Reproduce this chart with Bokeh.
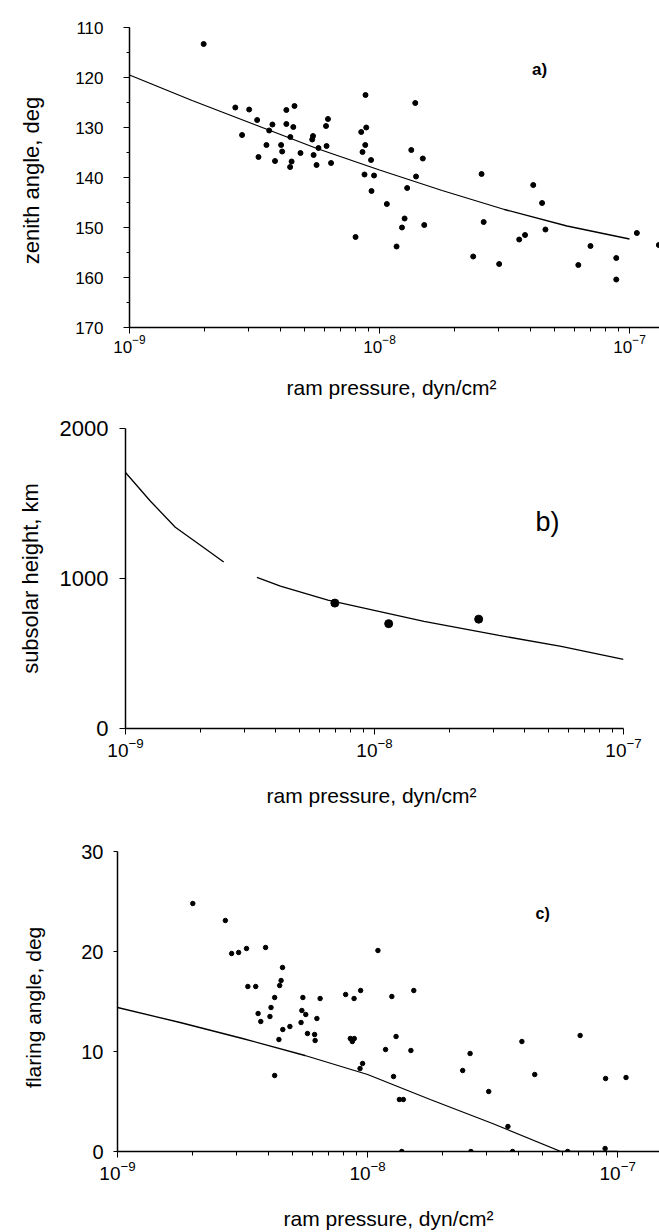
import math
from bokeh.plotting import figure
from bokeh.models import Range1d, FixedTicker, Label, SingleIntervalTicker
from bokeh.embed import file_html
from bokeh.resources import INLINE

FONT = "Liberation Sans"

# ---------------- data: panel a (zenith angle) ----------------
a_pressure = [1.98e-9, 2.65e-9, 3.01e-9, 3.24e-9, 2.82e-9, 3.28e-9, 3.53e-9, 3.62e-9,
              3.73e-9, 3.82e-9, 4.04e-9, 4.08e-9, 4.24e-9, 4.57e-9, 4.24e-9, 4.52e-9,
              4.40e-9, 4.45e-9, 4.39e-9, 4.83e-9, 5.38e-9, 5.42e-9, 5.45e-9, 5.60e-9,
              5.70e-9, 6.11e-9, 6.22e-9, 6.14e-9, 6.40e-9, 8.02e-9, 8.45e-9, 8.79e-9,
              8.85e-9, 8.77e-9, 8.55e-9, 9.25e-9, 8.71e-9, 9.29e-9, 9.51e-9, 1.07e-8,
              1.17e-8, 1.23e-8, 1.26e-8, 1.29e-8, 1.34e-8, 1.39e-8, 1.40e-8, 1.49e-8,
              1.51e-8, 2.37e-8, 2.56e-8, 2.61e-8, 3.01e-8, 3.62e-8, 3.82e-8, 4.12e-8,
              4.47e-8, 4.61e-8, 6.24e-8, 6.98e-8, 8.85e-8, 8.85e-8, 1.07e-7, 1.31e-7]
a_zenith = [113.3, 126.0, 126.4, 128.5, 131.5, 135.9, 133.5, 130.6,
            129.4, 136.7, 133.5, 134.8, 126.5, 125.7, 129.3, 129.9,
            131.9, 136.8, 137.9, 135.1, 132.4, 131.7, 135.5, 137.5,
            134.1, 129.7, 128.3, 133.7, 137.1, 151.9, 130.9, 123.5,
            130.0, 133.5, 134.9, 136.5, 139.4, 142.7, 139.6, 145.3,
            153.8, 150.0, 148.2, 142.1, 134.5, 125.1, 139.8, 136.2,
            149.5, 155.8, 139.3, 148.9, 157.3, 152.4, 151.5, 141.5,
            145.1, 150.4, 157.5, 153.7, 156.1, 160.4, 151.1, 153.5]
a_model_pressure = [1e-9, 1.78e-9, 3.16e-9, 5.62e-9, 1e-8, 1.78e-8, 3.16e-8, 5.62e-8, 1e-7]
a_model_zenith = [119.5, 124.6, 129.4, 134.2, 138.5, 142.6, 146.4, 149.7, 152.3]

# ---------------- data: panel b (subsolar height) ----------------
b_pressure = [6.93e-9, 1.14e-8, 2.62e-8]
b_height = [836, 699, 729]
b_model1_pressure = [1e-9, 1.26e-9, 1.585e-9, 2.0e-9, 2.48e-9]
b_model1_height = [1707, 1515, 1342, 1222, 1110]
b_model2_pressure = [3.37e-9, 4.19e-9, 6.5e-9, 1.58e-8, 3.16e-8, 5.62e-8, 1e-7]
b_model2_height = [1007, 949, 856, 714, 621, 547, 461]
b_yticks = [0, 1000, 2000]

# ---------------- data: panel c (flaring angle) ----------------
c_pressure = [2.00e-9, 2.70e-9, 2.86e-9, 3.05e-9, 3.28e-9, 3.91e-9, 4.57e-9, 4.51e-9,
              4.45e-9, 3.32e-9, 3.57e-9, 4.25e-9, 4.11e-9, 3.65e-9, 3.74e-9, 4.07e-9,
              4.58e-9, 4.89e-9, 4.42e-9, 4.25e-9, 5.51e-9, 5.46e-9, 5.66e-9, 5.42e-9,
              5.75e-9, 6.14e-9, 6.17e-9, 6.27e-9, 6.46e-9, 8.17e-9, 8.83e-9, 9.38e-9,
              8.53e-9, 8.85e-9, 8.69e-9, 9.55e-9, 9.33e-9, 1.10e-8, 1.25e-8, 1.53e-8,
              1.30e-8, 1.18e-8, 1.49e-8, 1.27e-8, 1.34e-8, 1.39e-8, 2.40e-8, 2.57e-8,
              3.05e-8, 4.14e-8, 4.66e-8, 3.64e-8, 7.08e-8, 8.95e-8, 1.08e-7,
              1.37e-8, 2.59e-8, 3.80e-8, 6.31e-8, 8.91e-8, 1.32e-7]
c_flaring = [24.8, 23.1, 19.8, 19.9, 20.3, 20.4, 18.4, 17.1,
             16.6, 16.5, 16.5, 15.4, 14.4, 13.8, 13.0, 13.5,
             12.2, 12.5, 11.2, 7.6, 15.4, 14.1, 13.7, 12.9,
             11.8, 11.7, 11.1, 13.3, 15.3, 15.7, 15.3, 16.1,
             11.3, 11.3, 11.0, 8.8, 8.3, 20.1, 15.5, 16.1,
             11.5, 10.2, 10.1, 7.5, 5.2, 5.2, 8.1, 9.8,
             6.0, 11.0, 7.7, 2.5, 11.6, 7.3, 7.4,
             0.0, 0.0, 0.0, 0.0, 0.3, -0.3]
c_model_pressure = [1e-9, 1.78e-9, 3.16e-9, 5.62e-9, 1e-8, 1.78e-8, 3.16e-8, 5.93e-8, 1e-7]
c_model_flaring = [14.4, 12.9, 11.3, 9.6, 7.7, 5.2, 2.8, 0.0, 0.0]
c_yticks = [0, 10, 20, 30]

x_major = [1e-9, 1e-8, 1e-7]
x_minor = [m * 1e-9 for m in range(2, 10)] + [m * 1e-8 for m in range(2, 10)]


def make_fig(w, h, left, right, top, bottom, xr, yr):
    p = figure(width=w, height=h, x_axis_type="log", x_range=xr, y_range=yr,
               output_backend="svg", toolbar_location=None,
               min_border_left=left, min_border_right=right,
               min_border_top=top, min_border_bottom=bottom)
    p.outline_line_color = None
    p.grid.visible = False
    p.background_fill_color = "white"
    p.border_fill_color = "white"
    for ax in (p.xaxis[0], p.yaxis[0]):
        ax.axis_line_color = "black"
        ax.axis_line_width = 1.5
        ax.major_tick_line_color = "black"
        ax.minor_tick_line_color = "black"
        ax.major_tick_in = 0
        ax.minor_tick_in = 0
        ax.major_label_text_font = FONT
        ax.major_label_text_color = "black"
        ax.axis_label_text_font = FONT
        ax.axis_label_text_font_style = "normal"
        ax.axis_label_text_color = "black"
    p.xaxis[0].ticker = FixedTicker(ticks=x_major, minor_ticks=x_minor)
    p.xaxis[0].major_tick_out = 6
    p.xaxis[0].minor_tick_out = 4
    return p


def add_text(p, x, y, text, size, bold=False):
    p.add_layout(Label(x=x, y=y, text=text, text_font=FONT,
                       text_font_size=f"{size}px",
                       text_font_style="bold" if bold else "normal",
                       text_align="center", text_baseline="middle",
                       text_color="black"))


# ---------------- panel a ----------------
pa = make_fig(659, 410, 129, 0, 27, 83, Range1d(1e-9, 1.318e-7), Range1d(170, 110))
pa.yaxis[0].ticker = SingleIntervalTicker(interval=10, num_minor_ticks=2)
pa.yaxis[0].major_tick_out = 6
pa.yaxis[0].minor_tick_out = 3
pa.yaxis[0].major_label_standoff = 20
pa.yaxis[0].major_label_text_font_size = "17px"
pa.xaxis[0].major_label_text_font_size = "17px"
pa.xaxis[0].major_label_standoff = 1
pa.xaxis[0].axis_label = "ram pressure,  dyn/cm²"
pa.xaxis[0].axis_label_text_font_size = "21px"
pa.xaxis[0].axis_label_standoff = 20
pa.yaxis[0].axis_label = "zenith angle,  deg"
pa.yaxis[0].axis_label_text_font_size = "22px"
pa.yaxis[0].axis_label_standoff = 28
pa.line(a_model_pressure, a_model_zenith, line_color="black", line_width=1.3)
pa.scatter(a_pressure, a_zenith, size=5, color="black")
add_text(pa, 4.37e-8, 118.4, "a)", 17, bold=True)

# ---------------- panel b ----------------
pb = make_fig(659, 405, 125, 36, 18, 87, Range1d(1e-9, 1e-7), Range1d(0, 2000))
pb.yaxis[0].ticker = FixedTicker(ticks=b_yticks)
pb.yaxis[0].major_tick_out = 6
pb.yaxis[0].major_label_standoff = 11
pb.yaxis[0].major_label_text_font_size = "22px"
pb.xaxis[0].major_label_text_font_size = "19px"
pb.xaxis[0].major_label_standoff = 3
pb.xaxis[0].axis_label = "ram pressure,  dyn/cm²"
pb.xaxis[0].axis_label_text_font_size = "21px"
pb.xaxis[0].axis_label_standoff = 24
pb.yaxis[0].axis_label = "subsolar height, km"
pb.yaxis[0].axis_label_text_font_size = "22px"
pb.yaxis[0].axis_label_standoff = 14
pb.line(b_model1_pressure, b_model1_height, line_color="black", line_width=1.3)
pb.line(b_model2_pressure, b_model2_height, line_color="black", line_width=1.3)
pb.scatter(b_pressure, b_height, size=8, color="black")
add_text(pb, 4.95e-8, 1380, "b)", 27)

# ---------------- panel c ----------------
pc = make_fig(659, 417, 117, 0, 36, 81, Range1d(1e-9, 1.47e-7), Range1d(0, 30))
pc.yaxis[0].ticker = FixedTicker(ticks=c_yticks)
pc.yaxis[0].major_tick_out = 4
pc.yaxis[0].major_label_standoff = 10
pc.yaxis[0].major_label_text_font_size = "20px"
pc.xaxis[0].major_label_text_font_size = "19px"
pc.xaxis[0].major_label_standoff = 3
pc.xaxis[0].axis_label = "ram pressure, dyn/cm²"
pc.xaxis[0].axis_label_text_font_size = "21px"
pc.xaxis[0].axis_label_standoff = 24
pc.yaxis[0].axis_label = "flaring angle,   deg"
pc.yaxis[0].axis_label_text_font_size = "21px"
pc.yaxis[0].axis_label_standoff = 33
pc.line(c_model_pressure, c_model_flaring, line_color="black", line_width=1.3)
pc.scatter(c_pressure, c_flaring, size=4.5, color="black")
add_text(pc, 5.01e-8, 23.85, "c)", 16, bold=True)

open("out.html", "w").write(file_html([pa, pb, pc], INLINE))
